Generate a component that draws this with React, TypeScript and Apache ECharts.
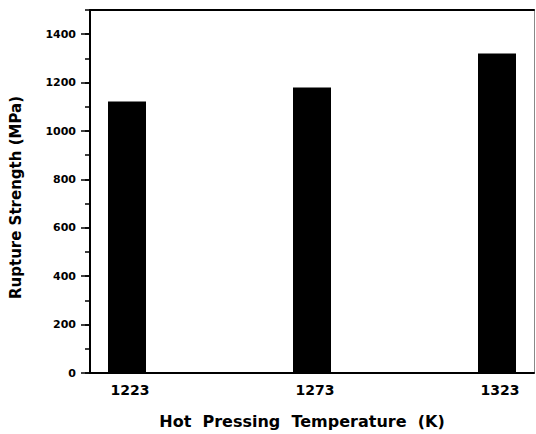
import React, { useEffect, useRef } from "react";
import * as echarts from "echarts";

const temperatures = [1223, 1273, 1323];
const strengths = [1122, 1180, 1320];
const yLabelValues = [0, 200, 400, 600, 800, 1000, 1200, 1400];

const FONT = "DejaVu Sans";

export default function App() {
  const ref = useRef<HTMLDivElement>(null);
  useEffect(() => {
    if (!ref.current) return;
    const chart = echarts.init(ref.current, undefined, { renderer: "svg" });
    chart.setOption({
      animation: false,
      backgroundColor: "#ffffff",
      grid: { left: 87, top: 10, width: 447, height: 363, containLabel: false },
      xAxis: [
        {
          type: "value",
          min: 1213,
          max: 1333,
          position: "bottom",
          axisLine: { show: true, onZero: false, lineStyle: { color: "#000", width: 2 } },
          axisTick: { show: false },
          splitLine: { show: false },
          axisLabel: {
            customValues: temperatures,
            formatter: (v: number) => String(v),
            color: "#000",
            fontFamily: FONT,
            fontWeight: "bold",
            fontSize: 14,
            margin: 10,
            padding: [0, 0, 0, 6],
          },
          name: "Hot  Pressing  Temperature  (K)",
          nameLocation: "middle",
          nameGap: 40,
          nameTextStyle: {
            color: "#000",
            fontFamily: FONT,
            fontWeight: "bold",
            fontSize: 16,
            padding: [0, 20, 0, 0],
          },
        },
        {
          type: "value",
          min: 1213,
          max: 1333,
          position: "top",
          axisLine: { show: true, onZero: false, lineStyle: { color: "#000", width: 2 } },
          axisTick: { show: false },
          axisLabel: { show: false },
          splitLine: { show: false },
        },
      ],
      yAxis: [
        {
          type: "value",
          min: 0,
          max: 1500,
          interval: 100,
          position: "left",
          axisLine: { show: true, onZero: false, lineStyle: { color: "#000", width: 2 } },
          axisTick: { show: true, length: 5, lineStyle: { color: "#000", width: 1.5 } },
          splitLine: { show: false },
          axisLabel: {
            customValues: yLabelValues,
            formatter: (v: number) => String(v),
            color: "#000",
            fontFamily: FONT,
            fontWeight: "bold",
            fontSize: 11,
            margin: 14,
          },
          name: "Rupture Strength (MPa)",
          nameLocation: "middle",
          nameGap: 67,
          nameTextStyle: {
            color: "#000",
            fontFamily: FONT,
            fontWeight: "bold",
            fontSize: 15,
            padding: [0, 12, 0, 0],
          },
        },
        {
          type: "value",
          min: 0,
          max: 1500,
          interval: 100,
          position: "left",
          axisLine: { show: false },
          axisTick: {
            show: true,
            length: 9,
            customValues: yLabelValues,
            lineStyle: { color: "#000", width: 1.5 },
          },
          axisLabel: { show: false },
          splitLine: { show: false },
        },
        {
          type: "value",
          min: 0,
          max: 1500,
          position: "right",
          axisLine: { show: true, onZero: false, lineStyle: { color: "#888", width: 1 } },
          axisTick: { show: false },
          axisLabel: { show: false },
          splitLine: { show: false },
        },
      ],
      series: [
        {
          type: "bar",
          xAxisIndex: 0,
          yAxisIndex: 0,
          barWidth: 38,
          itemStyle: { color: "#000" },
          data: temperatures.map((t, i) => [t, strengths[i]]),
        },
      ],
    });
    return () => chart.dispose();
  }, []);
  return (
    <div
      ref={ref}
      style={{ position: "absolute", left: 0, top: 0, width: 536, height: 434, background: "#fff" }}
    />
  );
}
